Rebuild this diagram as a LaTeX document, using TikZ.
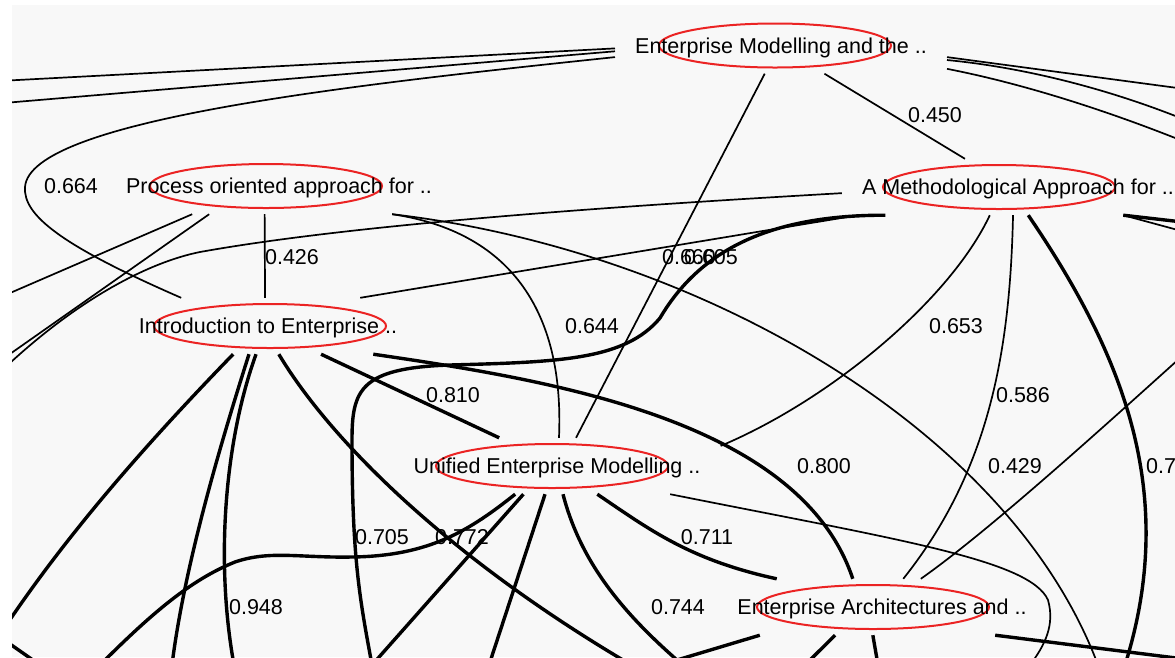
\documentclass[tikz,border=0pt]{standalone}
\usepackage{fontspec}
\setmainfont{Liberation Sans}
\definecolor{ringred}{RGB}{235,35,35}
\definecolor{paper}{RGB}{248,248,248}

\begin{document}
\begin{tikzpicture}[x=1pt,y=-1pt,
  topic/.style={rectangle,inner xsep=20pt,inner ysep=0pt,minimum height=56pt,
    text height=15.5pt,text depth=0pt,font=\fontsize{21.5}{24}\selectfont,
    path picture={\draw[ringred,line width=2pt]
      ([xshift=#1]path picture bounding box.center) ellipse [x radius=116pt,y radius=22pt];}},
  weight/.style={inner sep=0pt,text height=15.5pt,text depth=0pt,
    font=\fontsize{21.5}{24}\selectfont},
  link/.style={line width=1.7pt},
  heavy/.style={line width=3.4pt}]
  \fill[white] (0,0) rectangle (1175,657);
  \fill[paper] (12,5) rectangle (1175,657);
  \useasboundingbox (0,0) rectangle (1175,657);
  \clip (12,5) rectangle (1175,657);

  \node[topic=-6pt] (em) at (781,45.5) {Enterprise Modelling and the ..};
  \node[topic=-19pt] (ama) at (1018,187) {A Methodological Approach for ..};
  \node[topic=-13pt] (poa) at (279,186) {Process oriented approach for ..};
  \node[topic=2pt] (ie) at (268,326) {Introduction to Enterprise ..};
  \node[topic=-5pt] (uem) at (557,466) {Unified Enterprise Modelling ..};
  \node[topic=-9pt] (ea) at (882,607) {Enterprise Architectures and ..};

  \coordinate (w1) at (-20,82);
  \coordinate (w2) at (-20,105);
  \coordinate (w3) at (-20,392);
  \coordinate (w4) at (-20,306);
  \coordinate (w5) at (-20,375);
  \coordinate (w6) at (-10,650);
  \coordinate (w7) at (-10,630);
  \coordinate (e1) at (1200,91);
  \coordinate (e2) at (1200,126);
  \coordinate (e3) at (1200,148);
  \coordinate (e4) at (1200,224);
  \coordinate (e5) at (1200,236);
  \coordinate (e6) at (1200,661);
  \coordinate (e7) at (1200,340);
  \coordinate (s1) at (372,665);
  \coordinate (s2) at (1125,665);
  \coordinate (s3) at (1098,665);
  \coordinate (s4) at (172,665);
  \coordinate (s5) at (234,665);
  \coordinate (s6) at (640,670);
  \coordinate (s7) at (1030,665);
  \coordinate (s8) at (677,660);
  \coordinate (s9) at (489,665);
  \coordinate (s10) at (100,665);
  \coordinate (s11) at (805,665);
  \coordinate (s12) at (878,665);
  \coordinate (s13) at (40,665);

  \begin{scope}[link]
  \draw (em.181) -- (w1);
  \draw (em.182) -- (w2);
  \draw (em.184) .. controls (350,85) and (30,120) .. (25,187)
    .. controls (23,215) and (60,245) .. (ie.162);
  \draw (em.356) -- (e1);
  \draw (em.355) .. controls (1030,68) and (1120,92) .. (e2);
  \draw (em.352) .. controls (1030,85) and (1120,115) .. (e3);
  \draw (em.240) -- (uem.56);
  \draw (em.327) -- (ama.152);
  \draw (ama.182) .. controls (600,207) and (350,225) .. (200,252)
    .. controls (150,262) and (70,300) .. (w3);
  \draw (ie.17) -- (ama.190);
  \draw (ama.225) .. controls (950,300) and (830,400) .. (uem.7);
  \draw (ama.260) .. controls (1010,350) and (990,470) .. (ea.53);
  \draw (ama.345) -- (e5);
  \draw (poa.198) -- (w4);
  \draw (poa.202) -- (w5);
  \draw (poa.243) -- (ie.96);
  \draw (poa.346) .. controls (500,230) and (565,300) .. (uem.86);
  \draw (poa.346) .. controls (700,250) and (1010,430) .. (s3);
  \draw (uem.346) .. controls (900,540) and (1030,560) .. (1048,600)
    .. controls (1055,625) and (1045,645) .. (s7);
  \draw (e7) .. controls (1100,430) and (990,530) .. (ea.36);
  \end{scope}

  \begin{scope}[heavy]
  \draw (ama.192) .. controls (770,215) and (700,250) .. (660,318)
    .. controls (625,360) and (560,362) .. (450,365)
    .. controls (360,368) and (352,390) .. (352,440)
    .. controls (352,560) and (360,600) .. (s1);
  \draw (ama.290) .. controls (1120,350) and (1180,490) .. (s2);
  \draw (ama.345) -- (e4);
  \draw (ie.219) .. controls (150,440) and (60,540) .. (w6);
  \draw (ie.236) .. controls (225,430) and (185,560) .. (s4);
  \draw (ie.247) .. controls (225,440) and (215,560) .. (s5);
  \draw (ie.291) .. controls (330,440) and (450,560) .. (s6);
  \draw (ie.332) -- (uem.154);
  \draw (ie.345) .. controls (550,380) and (800,420) .. (ea.136);
  \draw (uem.325) .. controls (650,530) and (690,560) .. (ea.165);
  \draw (uem.282) .. controls (580,560) and (620,610) .. (s8);
  \draw (ea.193) -- (s8);
  \draw (uem.247) -- (s9);
  \draw (uem.214) .. controls (470,530) and (430,556) .. (352,557)
    .. controls (300,558) and (270,550) .. (235,562)
    .. controls (190,580) and (150,615) .. (s10);
  \draw (uem.220) -- (s1);
  \draw (ea.211) -- (s11);
  \draw (ea.252) -- (s12);
  \draw (ea.346) -- (e6);
  \draw (w7) -- (s13);
  \end{scope}

  \node[weight] (v664) at (71,186) {0.664};
  \node[weight] (v426) at (292,257) {0.426};
  \node[weight] (v450) at (935,115) {0.450};
  \node[weight] (v644) at (592,326) {0.644};
  \node[weight] (v653) at (956,326) {0.653};
  \node[weight] (v810) at (453,395) {0.810};
  \node[weight] (v586) at (1023,395) {0.586};
  \node[weight] (v800) at (824,466) {0.800};
  \node[weight] (v429) at (1015,466) {0.429};
  \node[weight,anchor=west] (v7) at (1146,466) {0.7};
  \node[weight] (v705) at (382,537) {0.705};
  \node[weight] (v772) at (462,537) {0.772};
  \node[weight] (v711) at (707,537) {0.711};
  \node[weight] (v948) at (256,607) {0.948};
  \node[weight] (v744) at (678,607) {0.744};
  \node[weight] (v660) at (689,257) {0.660};
  \node[weight] (v605) at (711,257) {0.605};
\end{tikzpicture}
\end{document}
